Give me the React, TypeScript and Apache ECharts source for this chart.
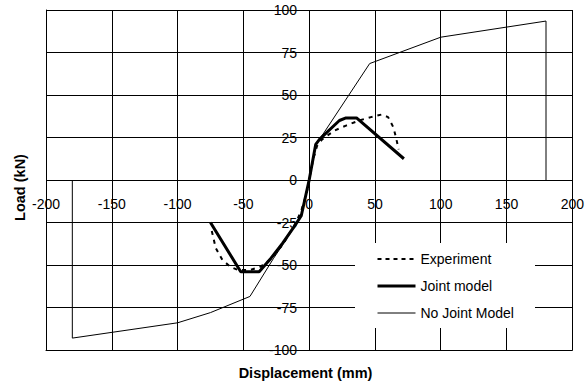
import React, { useEffect, useRef } from "react";
import * as echarts from "echarts";

const xTicks = [-200, -150, -100, -50, 0, 50, 100, 150, 200];
const yTicks = [-100, -75, -50, -25, 0, 25, 50, 75, 100];

const seriesNames = ["Experiment", "Joint model", "No Joint Model"];

const experiment: [number, number][] = [
  [-74, -30], [-71, -40], [-66, -47], [-60, -51], [-54, -53], [-45, -53],
  [-37, -51], [-30, -47], [-20, -38], [-10, -25], [-6, -18], [-2, -8], [0, 0],
  [3, 12], [6, 20], [10, 24], [19, 29], [28, 32], [38, 35], [47, 37],
  [55, 38.5], [60, 37], [64, 31], [66, 25], [68, 18],
];

const jointModel: [number, number][] = [
  [-75, -25], [-52, -54], [-38, -54], [-29, -46], [-20, -37], [-11, -27],
  [-6, -21], [0, 0], [5, 21], [8, 24], [23, 35], [28, 36.5], [36, 36.5], [72, 12.5],
];

const noJointModel: [number, number][] = [
  [-180, 0], [-180, -93], [-100, -84], [-75, -78], [-45, -68.5], [-27, -46],
  [-20, -38], [-6, -21], [0, 0], [5, 21], [8, 24], [46, 68.5], [100, 84],
  [180, 93.5], [180, 0],
];

export default function App() {
  const ref = useRef<HTMLDivElement>(null);

  useEffect(() => {
    if (!ref.current) return;
    const chart = echarts.init(ref.current, undefined, { renderer: "svg" });
    const font = "Arial, 'Liberation Sans', sans-serif";
    chart.setOption({
      animation: false,
      backgroundColor: "#ffffff",
      grid: { left: 46, right: 14, top: 10, bottom: 35 },
      xAxis: {
        type: "value",
        min: xTicks[0],
        max: xTicks[xTicks.length - 1],
        interval: 50,
        axisLine: { show: true, onZero: false, lineStyle: { color: "#000", width: 1 } },
        axisTick: { show: false },
        axisLabel: { show: true, color: "#000", fontSize: 14, fontFamily: font, margin: -153 },
        splitLine: { show: true, lineStyle: { color: "#000", width: 1, type: "solid" } },
      },
      yAxis: {
        type: "value",
        min: yTicks[0],
        max: yTicks[yTicks.length - 1],
        interval: 25,
        axisLine: { show: true, onZero: false, lineStyle: { color: "#000", width: 1 } },
        axisTick: { show: false },
        axisLabel: { show: true, color: "#000", fontSize: 14, fontFamily: font, margin: -251 },
        splitLine: { show: true, lineStyle: { color: "#000", width: 1, type: "solid" } },
      },
      legend: {
        orient: "vertical",
        left: 376,
        top: 252,
        padding: 0,
        itemWidth: 38,
        itemHeight: 14,
        itemGap: 13,
        itemStyle: { opacity: 0 },
        textStyle: { color: "#000", fontSize: 14, fontFamily: font },
        data: [
          { name: seriesNames[0], lineStyle: { width: 2, type: [4, 4], color: "#000" } },
          { name: seriesNames[1], lineStyle: { width: 3, color: "#000" } },
          { name: seriesNames[2], lineStyle: { width: 1, color: "#000" } },
        ],
        z: 10,
      },
      graphic: [
        {
          type: "rect",
          z: 5,
          shape: { x: 355, y: 243, width: 180, height: 85 },
          style: { fill: "#ffffff" },
        },
        {
          type: "text",
          z: 5,
          x: 305.5,
          y: 373,
          style: {
            text: "Displacement (mm)",
            fill: "#000",
            font: `bold 14.5px ${font}`,
            align: "center",
            verticalAlign: "middle",
          },
        },
        {
          type: "text",
          z: 5,
          x: 19.5,
          y: 187.5,
          rotation: Math.PI / 2,
          style: {
            text: "Load (kN)",
            fill: "#000",
            font: `bold 14.5px ${font}`,
            align: "center",
            verticalAlign: "middle",
          },
        },
      ],
      series: [
        {
          name: seriesNames[0],
          type: "line",
          data: experiment,
          symbol: "none",
          lineStyle: { color: "#000", width: 2, type: [4, 5] },
          itemStyle: { color: "#000" },
          z: 3,
        },
        {
          name: seriesNames[1],
          type: "line",
          data: jointModel,
          symbol: "none",
          lineStyle: { color: "#000", width: 3 },
          itemStyle: { color: "#000" },
          z: 4,
        },
        {
          name: seriesNames[2],
          type: "line",
          data: noJointModel,
          symbol: "none",
          lineStyle: { color: "#000", width: 1 },
          itemStyle: { color: "#000" },
          z: 2,
        },
      ],
    });
    return () => chart.dispose();
  }, []);

  return (
    <div
      ref={ref}
      style={{ position: "absolute", left: 0, top: 0, width: 587, height: 385 }}
    />
  );
}
